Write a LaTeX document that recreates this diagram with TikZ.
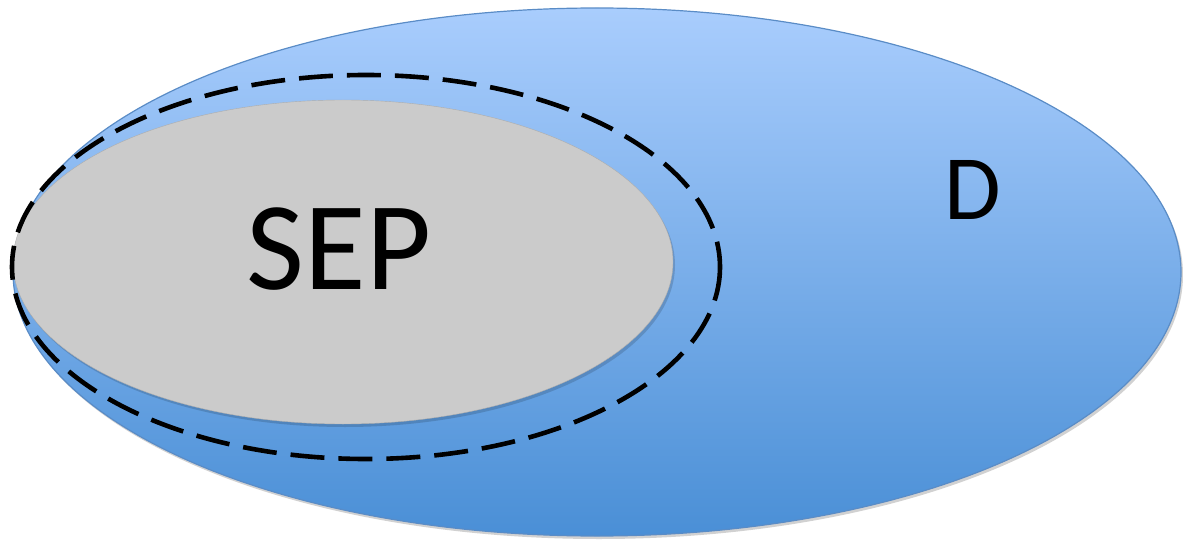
\documentclass[tikz,border=0pt]{standalone}
\usepackage{fontspec}
\setmainfont{Carlito}
\begin{document}
\begin{tikzpicture}[x=1pt,y=-1pt,
  outerset/.style={top color=blueTop,bottom color=blueBot,draw=blueEdge,line width=1.2pt},
  innerset/.style={fill=setGray,draw=setGray!85!black,line width=0.4pt},
  boundary/.style={draw=black,line width=4.6pt,dash pattern=on 34pt off 14pt},
  softshadow/.style={fill=black,opacity=0.18}]
\definecolor{blueTop}{HTML}{A9CDFD}
\definecolor{blueBot}{HTML}{4A8FD6}
\definecolor{blueEdge}{HTML}{5A8CC6}
\definecolor{setGray}{HTML}{CBCBCB}
\useasboundingbox (0,0) rectangle (1183,540);
% domain D with a faint shadow
\fill[softshadow] (599,275) ellipse [x radius=584, y radius=264];
\path[outerset] (597,272) ellipse [x radius=584, y radius=264];
% SEP region
\fill[black,opacity=0.15] (345,265) ellipse [x radius=330, y radius=162];
\path[innerset] (343,262) ellipse [x radius=330, y radius=162];
% dashed boundary
\path[boundary] (366,267) ellipse [x radius=354, y radius=192];
% labels
\node (sep) at (339,249) {\fontsize{126}{126}\selectfont SEP};
\node (d) at (973,190) {\fontsize{92}{92}\selectfont D};
\end{tikzpicture}
\end{document}
